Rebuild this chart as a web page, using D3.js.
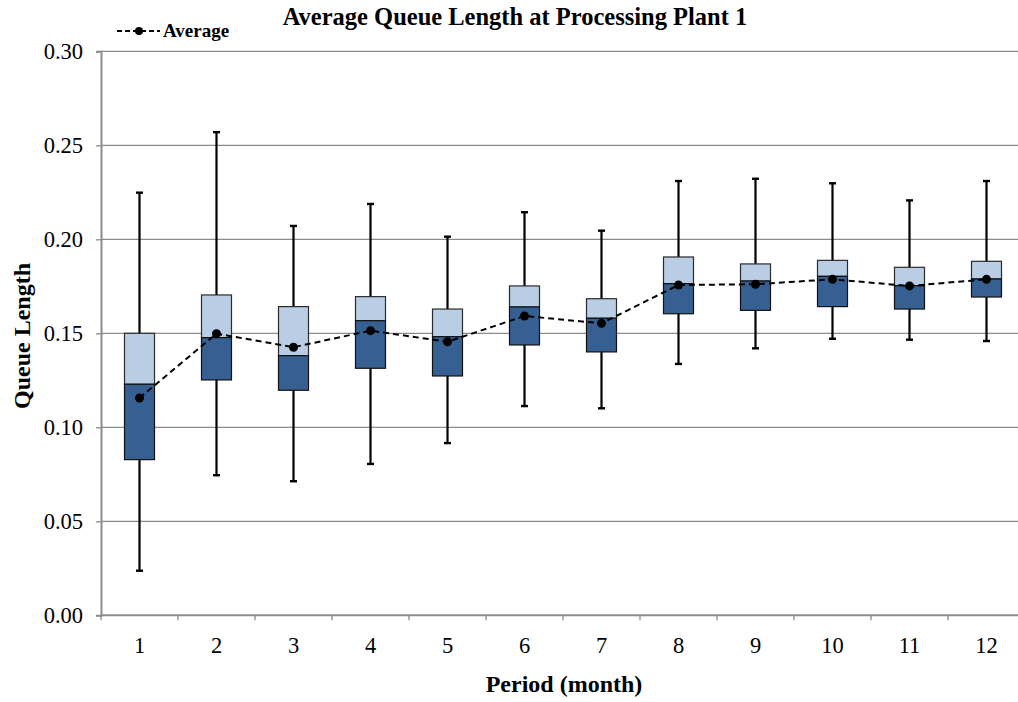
<!DOCTYPE html>
<html>
<head>
<meta charset="utf-8">
<script src="https://cdnjs.cloudflare.com/ajax/libs/d3/7.8.5/d3.min.js"></script>
<style>
  body { margin: 0; background: #fff; }
  svg { display: block; }
  svg text { font-family: "Liberation Serif", "Times New Roman", serif; fill: #000; }
  .grid line { stroke: #8c8c8c; stroke-width: 1.3; }
  .axis path, .axis line { stroke: #8c8c8c; }
</style>
</head>
<body>
<svg id="chart" width="1018" height="702"></svg>
<script>
const periods = ["1", "2", "3", "4", "5", "6", "7", "8", "9", "10", "11", "12"];
const whiskerLow  = [0.0237, 0.0745, 0.0713, 0.0805, 0.0916, 0.1113, 0.1101, 0.1337, 0.1420, 0.1471, 0.1466, 0.1459];
const quartile1   = [0.0828, 0.1252, 0.1197, 0.1314, 0.1273, 0.1438, 0.1401, 0.1604, 0.1622, 0.1642, 0.1629, 0.1693];
const medians     = [0.1229, 0.1477, 0.1381, 0.1567, 0.1482, 0.1640, 0.1580, 0.1764, 0.1778, 0.1803, 0.1753, 0.1789];
const quartile3   = [0.1500, 0.1704, 0.1642, 0.1695, 0.1629, 0.1752, 0.1684, 0.1906, 0.1869, 0.1888, 0.1851, 0.1883];
const whiskerHigh = [0.2248, 0.2570, 0.2071, 0.2188, 0.2014, 0.2144, 0.2046, 0.2310, 0.2322, 0.2298, 0.2207, 0.2310];
const averages    = [0.1156, 0.1498, 0.1426, 0.1514, 0.1455, 0.1592, 0.1553, 0.1757, 0.1761, 0.1787, 0.1752, 0.1787];
const yTicks = [0, 0.05, 0.10, 0.15, 0.20, 0.25, 0.30];

const svg = d3.select("#chart");
const plot = {left: 101, top: 51.3, bottom: 615.3};

const x = d3.scaleBand()
    .domain(periods)
    .range([plot.left, plot.left + 12 * 77]);
const y = d3.scaleLinear()
    .domain([0, 0.30])
    .range([plot.bottom, plot.top]);

// horizontal grid lines
svg.append("g")
    .attr("class", "grid")
    .selectAll("line")
    .data(yTicks.slice(1))
    .join("line")
    .attr("x1", plot.left).attr("x2", 1018)
    .attr("y1", d => y(d)).attr("y2", d => y(d));

// y axis
const yAxis = svg.append("g")
    .attr("class", "axis")
    .attr("transform", `translate(${plot.left},0)`)
    .call(d3.axisLeft(y).tickValues(yTicks).tickFormat(d3.format(".2f")).tickSize(5).tickPadding(13));
yAxis.attr("font-family", null).attr("font-size", 22.5);
yAxis.select(".domain").attr("stroke-width", 2);
yAxis.selectAll(".tick line").attr("stroke-width", 1.3);

// x axis
const xAxis = svg.append("g")
    .attr("class", "axis")
    .attr("transform", `translate(0,${plot.bottom})`)
    .call(d3.axisBottom(x).tickSize(0));
xAxis.attr("font-family", null).attr("font-size", 22.5);
xAxis.select(".domain").attr("stroke-width", 2).attr("d", `M${plot.left},0H1018`);
xAxis.selectAll(".tick text").attr("y", 38).attr("dy", 0);
xAxis.selectAll(".edge")
    .data(periods)
    .join("line")
    .attr("x1", d => x(d)).attr("x2", d => x(d))
    .attr("y1", 0).attr("y2", 5)
    .attr("stroke", "#8c8c8c").attr("stroke-width", 1.3);

const cx = i => x(periods[i]) + x.bandwidth() / 2;
const boxW = 30;
const idx = d3.range(periods.length);

// whiskers
const wh = svg.append("g");
wh.selectAll(".stem").data(idx).join("line")
    .attr("x1", cx).attr("x2", cx)
    .attr("y1", i => y(whiskerLow[i])).attr("y2", i => y(whiskerHigh[i]))
    .attr("stroke", "#000").attr("stroke-width", 2.2);
[whiskerLow, whiskerHigh].forEach(arr => {
    wh.append("g").selectAll("line").data(idx).join("line")
        .attr("x1", i => cx(i) - 3.5).attr("x2", i => cx(i) + 3.5)
        .attr("y1", i => y(arr[i])).attr("y2", i => y(arr[i]))
        .attr("stroke", "#000").attr("stroke-width", 2.4);
});

// boxes: upper half (median..Q3) light, lower half (Q1..median) dark
const boxes = svg.append("g");
boxes.selectAll(".upper").data(idx).join("rect")
    .attr("class", "upper")
    .attr("x", i => cx(i) - boxW / 2).attr("width", boxW)
    .attr("y", i => y(quartile3[i])).attr("height", i => y(medians[i]) - y(quartile3[i]))
    .attr("fill", "#b9cde5").attr("stroke", "#2b2b2b").attr("stroke-width", 1.2);
boxes.selectAll(".lower").data(idx).join("rect")
    .attr("class", "lower")
    .attr("x", i => cx(i) - boxW / 2).attr("width", boxW)
    .attr("y", i => y(medians[i])).attr("height", i => y(quartile1[i]) - y(medians[i]))
    .attr("fill", "#376092").attr("stroke", "#111").attr("stroke-width", 1.2);

// average line
const line = d3.line().x(i => cx(i)).y(i => y(averages[i]));
svg.append("path")
    .datum(idx)
    .attr("d", line)
    .attr("fill", "none").attr("stroke", "#000")
    .attr("stroke-width", 2).attr("stroke-dasharray", "6,4");
svg.append("g").selectAll("circle").data(idx).join("circle")
    .attr("cx", cx).attr("cy", i => y(averages[i])).attr("r", 4.5)
    .attr("fill", "#000");

// title
svg.append("text")
    .attr("x", 515).attr("y", 25)
    .attr("text-anchor", "middle")
    .attr("font-weight", "bold").attr("font-size", 24.5)
    .text("Average Queue Length at Processing Plant 1");

// legend
const lg = svg.append("g");
lg.append("line")
    .attr("x1", 117).attr("x2", 160).attr("y1", 31).attr("y2", 31)
    .attr("stroke", "#000").attr("stroke-width", 2).attr("stroke-dasharray", "5,3");
lg.append("circle").attr("cx", 139).attr("cy", 31).attr("r", 4).attr("fill", "#000");
lg.append("text")
    .attr("x", 163).attr("y", 37)
    .attr("font-weight", "bold").attr("font-size", 19)
    .text("Average");

// axis titles
svg.append("text")
    .attr("x", 564).attr("y", 692)
    .attr("text-anchor", "middle")
    .attr("font-weight", "bold").attr("font-size", 24)
    .text("Period (month)");
svg.append("text")
    .attr("transform", "translate(30,336) rotate(-90)")
    .attr("text-anchor", "middle")
    .attr("font-weight", "bold").attr("font-size", 24)
    .text("Queue Length");
</script>
</body>
</html>
